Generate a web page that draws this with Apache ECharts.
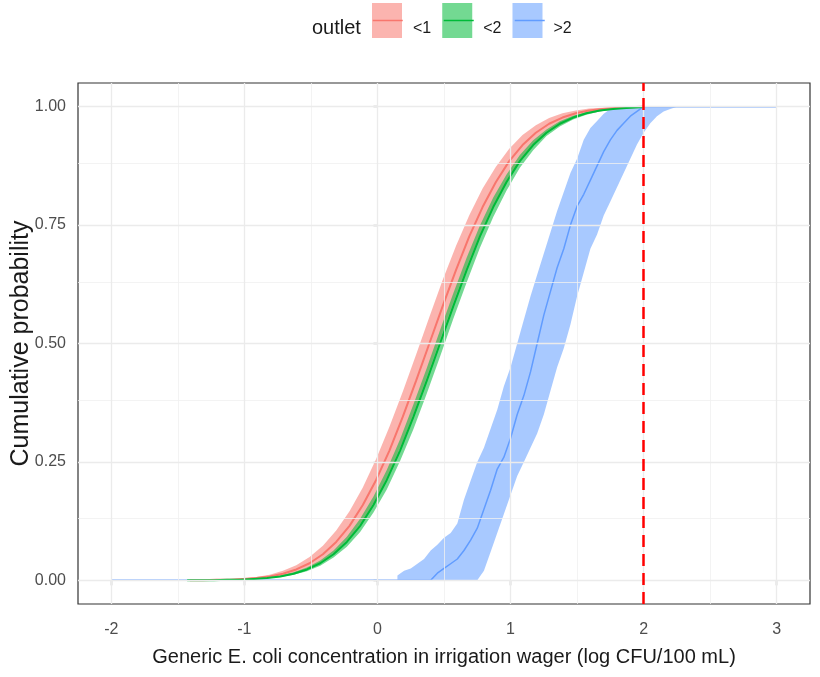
<!DOCTYPE html>
<html><head><meta charset="utf-8">
<script src="https://cdn.jsdelivr.net/npm/echarts@6/dist/echarts.min.js"></script>
<style>html,body{margin:0;padding:0;background:#fff}#c{width:820px;height:677px}</style>
</head><body><div id="c"></div>
<script>
// ---------- data ----------
const seriesNames = ['<1', '<2', '>2'];
const xTicks = [-2, -1, 0, 1, 2, 3];
const xMinorTicks = [-1.5, -0.5, 0.5, 1.5, 2.5];
const yTicks = [0, 0.25, 0.5, 0.75, 1];
const yMinorTicks = [0.125, 0.375, 0.625, 0.875];
const threshold = 2;

// outlet <1 (red)
const redX   = [-1.41,-1.31,-1.21,-1.11,-1.01,-0.91,-0.81,-0.71,-0.61,-0.51,-0.41,-0.31,-0.21,-0.11,-0.01,0.09,0.19,0.29,0.39,0.49,0.59,0.69,0.79,0.89,0.99,1.09,1.19,1.29,1.39,1.49,1.59,1.69,1.79,1.89,1.99];
const redMid = [0.000,0.000,0.001,0.001,0.003,0.005,0.008,0.014,0.023,0.036,0.055,0.081,0.115,0.159,0.212,0.274,0.345,0.421,0.500,0.579,0.655,0.726,0.788,0.841,0.885,0.919,0.945,0.964,0.977,0.986,0.992,0.995,0.997,0.999,1.000];
const redHi  = [0.000,0.001,0.001,0.002,0.004,0.007,0.012,0.020,0.032,0.049,0.073,0.105,0.146,0.196,0.256,0.324,0.398,0.476,0.556,0.634,0.706,0.771,0.827,0.873,0.911,0.940,0.961,0.976,0.986,0.992,0.996,0.998,0.999,1.000,1.000];
const redLo  = [0.000,0.000,0.000,0.001,0.002,0.003,0.005,0.010,0.016,0.026,0.041,0.062,0.090,0.127,0.172,0.228,0.293,0.366,0.444,0.524,0.602,0.676,0.743,0.802,0.851,0.891,0.923,0.947,0.964,0.977,0.986,0.991,0.995,0.997,1.000];

// outlet <2 (green)
const greenX   = [-1.43,-1.33,-1.23,-1.13,-1.03,-0.93,-0.83,-0.73,-0.63,-0.53,-0.43,-0.33,-0.23,-0.13,-0.03,0.07,0.17,0.27,0.37,0.47,0.57,0.67,0.77,0.87,0.97,1.07,1.17,1.27,1.37,1.47,1.57,1.67,1.77,1.87,1.97,2.00];
const greenMid = [0.000,0.000,0.000,0.001,0.001,0.003,0.005,0.008,0.014,0.023,0.036,0.055,0.081,0.115,0.159,0.212,0.274,0.345,0.421,0.500,0.579,0.655,0.726,0.788,0.841,0.885,0.919,0.945,0.964,0.977,0.986,0.992,0.995,0.997,0.999,1.000];
const greenHi  = [0.000,0.000,0.000,0.001,0.002,0.003,0.006,0.010,0.017,0.027,0.042,0.063,0.092,0.130,0.177,0.233,0.298,0.371,0.448,0.528,0.606,0.681,0.749,0.808,0.857,0.898,0.929,0.952,0.969,0.981,0.988,0.993,0.996,0.998,0.999,1.000];
const greenLo  = [0.000,0.000,0.000,0.001,0.001,0.002,0.004,0.007,0.012,0.019,0.031,0.048,0.071,0.102,0.143,0.192,0.252,0.319,0.394,0.472,0.552,0.629,0.702,0.767,0.823,0.871,0.908,0.938,0.958,0.973,0.983,0.990,0.994,0.997,0.998,1.000];

// outlet >2 (blue) - empirical CDF
const blueX   = [-2.00,0.40,0.45,0.50,0.55,0.60,0.65,0.70,0.75,0.80,0.85,0.90,0.95,1.00,1.05,1.10,1.15,1.20,1.25,1.30,1.35,1.40,1.45,1.50,1.55,1.60,1.65,1.70,1.75,1.80,1.85,1.90,1.95,2.00,3.00];
const blueMid = [0,0,0.015,0.025,0.035,0.045,0.063,0.085,0.11,0.15,0.19,0.235,0.26,0.30,0.35,0.39,0.44,0.50,0.56,0.61,0.66,0.70,0.75,0.79,0.815,0.845,0.875,0.905,0.93,0.95,0.965,0.98,0.99,1.0,1.0];
const blueBandX = [0.15,0.20,0.25,0.30,0.35,0.40,0.45,0.50,0.55,0.60,0.65,0.70,0.75,0.80,0.85,0.90,0.95,1.00,1.05,1.10,1.15,1.20,1.25,1.30,1.35,1.40,1.45,1.50,1.55,1.60,1.65,1.70,1.75,1.80,1.85,1.90,1.95,2.00,2.05,2.10,2.15,2.20,2.25];
const blueHi = [0.01,0.02,0.025,0.035,0.045,0.063,0.075,0.09,0.10,0.12,0.17,0.21,0.25,0.28,0.32,0.36,0.41,0.45,0.50,0.55,0.60,0.645,0.69,0.735,0.78,0.82,0.86,0.89,0.93,0.955,0.97,0.985,0.995,1,1,1,1,1,1,1,1,1,1];
const blueLo = [0,0,0,0,0,0,0,0,0,0,0,0,0,0.02,0.06,0.10,0.14,0.18,0.22,0.25,0.28,0.31,0.35,0.40,0.45,0.49,0.54,0.60,0.65,0.70,0.73,0.77,0.80,0.83,0.86,0.89,0.92,0.945,0.965,0.98,0.99,0.995,1.0];

// ---------- styling ----------
const LINE = ['#F8766D', '#00BA38', '#619CFF'];
const FILL = ['rgba(248,118,109,0.55)', 'rgba(0,186,56,0.55)', 'rgba(97,156,255,0.55)'];
const SANS = "'Liberation Sans',Arial,sans-serif";

const pairs = (xs, ys) => xs.map((x, i) => [x, ys[i]]);
const rows = (xs, lo, hi) => xs.map((x, i) => [x, lo[i], hi[i]]);

// ribbon drawn as one polygon through the axis scales (api.coord)
function ribbon(key, xs, lo, hi, color) {
  return {
    type: 'custom', name: key, data: rows(xs, lo, hi), encode: { x: 0, y: [1, 2] },
    clip: true, silent: true, z: 2, animation: false,
    renderItem: function (params, api) {
      if (params.dataIndexInside !== 0) return null;
      const n = params.dataInsideLength;
      const up = [], down = [];
      for (let i = 0; i < n; i++) up.push(api.coord([api.value(0, i), api.value(2, i)]));
      for (let i = n - 1; i >= 0; i--) down.push(api.coord([api.value(0, i), api.value(1, i)]));
      return { type: 'polygon', shape: { points: up.concat(down) }, style: { fill: color, stroke: null } };
    }
  };
}

const gridMajor = { color: '#EBEBEB', width: 1.3, type: 'solid' };
const gridMinor = { color: '#F0F0F0', width: 0.8, type: 'solid' };
const gridLines = []
  .concat(xMinorTicks.map(v => ({ xAxis: v, lineStyle: gridMinor })))
  .concat(yMinorTicks.map(v => ({ yAxis: v, lineStyle: gridMinor })))
  .concat(xTicks.map(v => ({ xAxis: v, lineStyle: gridMajor })))
  .concat(yTicks.map(v => ({ yAxis: v, lineStyle: gridMajor })));

const legendText = (color) => ({
  fontFamily: SANS, fontSize: 16, color: color, padding: [0, 0, 0, 6],
  rich: {
    s: { fontFamily: SANS, fontSize: 16, lineHeight: 16, color: color },
    t: { fontFamily: SANS, fontSize: 16, lineHeight: 19, color: color }
  }
});
const legendBase = {
  left: 372, top: 3, padding: 0, orient: 'horizontal', itemWidth: 30, itemHeight: 35, itemGap: 11,
  selectedMode: false,
  formatter: name => '{s| }\n{t|' + name + '}'
};

const option = {
  animation: false,
  backgroundColor: '#fff',
  title: { text: 'outlet', left: 312, top: 18, padding: 0,
    textStyle: { fontFamily: SANS, fontSize: 20, fontWeight: 'normal', color: '#1a1a1a' } },
  legend: [
    Object.assign({}, legendBase, {
      textStyle: legendText('#1a1a1a'),
      data: seriesNames.map((n, i) => ({ name: n, icon: 'rect', itemStyle: { color: FILL[i], borderWidth: 0 } }))
    }),
    Object.assign({}, legendBase, {
      textStyle: legendText('rgba(0,0,0,0)'),
      data: seriesNames.map((n, i) => ({ name: n, icon: 'line', itemStyle: { color: LINE[i], borderColor: LINE[i], borderWidth: 1.5 } }))
    })
  ],
  grid: { left: 78, right: 10, top: 83, bottom: 73, outerBoundsMode: 'none', containLabel: false,
    show: true, borderColor: '#333333', borderWidth: 1.2, backgroundColor: 'transparent' },
  xAxis: {
    type: 'value', min: -2.25, max: 3.25,
    name: 'Generic E. coli concentration in irrigation wager (log CFU/100 mL)',
    nameLocation: 'middle', nameGap: 43, nameMoveOverlap: false,
    nameTextStyle: { fontFamily: SANS, fontSize: 20, color: '#1a1a1a' },
    axisLine: { show: false },
    axisTick: { show: true, customValues: xTicks, length: 5, lineStyle: { color: '#333333', width: 1.2 } },
    axisLabel: { customValues: xTicks, margin: 18, fontFamily: SANS, fontSize: 16, color: '#4D4D4D',
      formatter: v => String(v) },
    splitLine: { show: false }, minorSplitLine: { show: false }
  },
  yAxis: {
    type: 'value', min: -0.05, max: 1.05,
    name: 'Cumulative probability', nameLocation: 'middle', nameGap: 44, nameMoveOverlap: false,
    nameTextStyle: { fontFamily: SANS, fontSize: 25, color: '#1a1a1a' },
    axisLine: { show: false },
    axisTick: { show: true, customValues: yTicks, length: 4, lineStyle: { color: '#333333', width: 1.2 } },
    axisLabel: { customValues: yTicks, margin: 12, fontFamily: SANS, fontSize: 16, color: '#4D4D4D',
      formatter: v => v.toFixed(2) },
    splitLine: { show: false }, minorSplitLine: { show: false }
  },
  series: [
    { type: 'line', name: 'gridlines', data: [[-2, 0]], symbol: 'none', silent: true, z: 1,
      lineStyle: { width: 0, opacity: 0 },
      markLine: { silent: true, symbol: ['none', 'none'], label: { show: false }, animation: false, data: gridLines } },
    ribbon('band >2', blueBandX, blueLo, blueHi, FILL[2]),
    ribbon('band <1', redX, redLo, redHi, FILL[0]),
    ribbon('band <2', greenX, greenLo, greenHi, FILL[1]),
    { type: 'line', name: '>2', data: pairs(blueX, blueMid), symbol: 'none', z: 3,
      lineStyle: { color: LINE[2], width: 1.5 }, itemStyle: { color: LINE[2] } },
    { type: 'line', name: '<1', data: pairs(redX, redMid), symbol: 'none', z: 3,
      lineStyle: { color: LINE[0], width: 2 }, itemStyle: { color: LINE[0] } },
    { type: 'line', name: '<2', data: pairs(greenX, greenMid), symbol: 'none', z: 3,
      lineStyle: { color: LINE[1], width: 2 }, itemStyle: { color: LINE[1] } },
    { type: 'line', name: 'threshold', data: [[threshold, 1]], symbol: 'none', silent: true, z: 5,
      lineStyle: { width: 0, opacity: 0 },
      markLine: { silent: true, symbol: ['none', 'none'], label: { show: false }, animation: false,
        data: [{ xAxis: threshold, lineStyle: { color: '#FF0000', width: 2.5, type: [12, 7] } }] } }
  ]
};

const chart = echarts.init(document.getElementById('c'), null, { renderer: 'canvas' });
chart.setOption(option);
</script></body></html>
